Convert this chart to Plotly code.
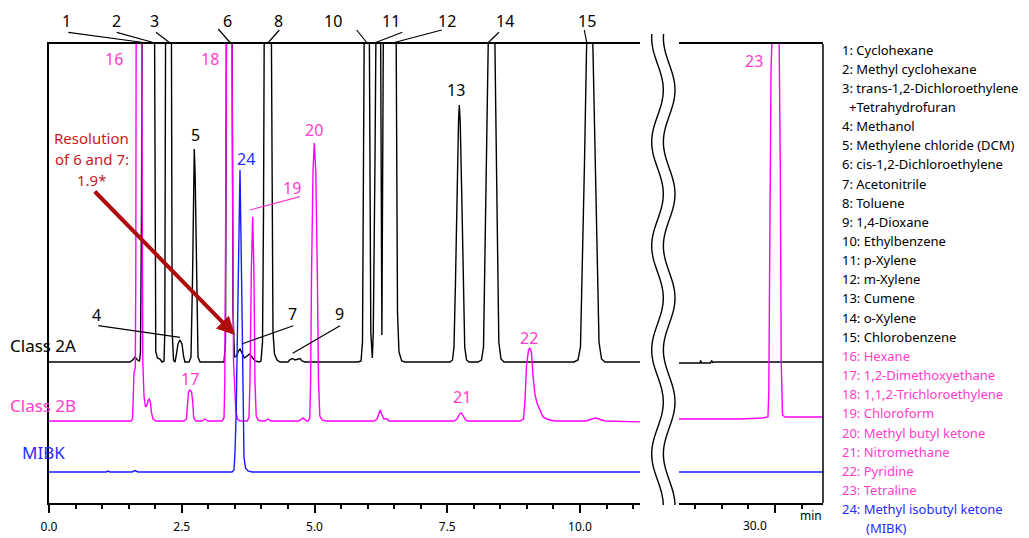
import numpy as np
import plotly.graph_objects as go

# ---------------- data (retention time in min, signal above each baseline) ----------------
class2a_t = [0, 1.525, 1.573, 1.620, 1.667, 1.704, 1.723, 1.742, 1.757, 1.780, 1.864, 1.930,
             1.983, 1.996, 2.011, 2.043, 2.090, 2.128, 2.166,
             2.181, 2.192, 2.213, 2.247, 2.288, 2.307, 2.320, 2.345, 2.373,
             2.401, 2.429, 2.467, 2.505, 2.533, 2.561,
             2.637, 2.674, 2.702, 2.723, 2.736, 2.753, 2.778, 2.806, 2.844,
             3.296, 3.324, 3.339, 3.362, 3.395, 3.431, 3.450, 3.465, 3.493,
             3.531, 3.569, 3.597, 3.635, 3.682, 3.729, 3.776, 3.823, 3.879, 3.955,
             3.992, 4.021, 4.040, 4.058, 4.087, 4.124, 4.162, 4.181, 4.200, 4.218, 4.247, 4.294, 4.350,
             4.501, 4.539, 4.586, 4.633, 4.680, 4.727, 4.765, 4.821,
             5.819, 5.876, 5.904, 5.923, 5.942, 5.985, 6.017, 6.038, 6.060, 6.089,
             6.107, 6.139, 6.158, 6.202, 6.243, 6.269, 6.299, 6.328, 6.412, 6.522, 6.544, 6.563,
             6.591, 6.642, 6.704,
             7.552, 7.599, 7.627, 7.655, 7.684, 7.712, 7.727, 7.744, 7.772, 7.800, 7.829, 7.863, 7.910,
             8.079, 8.145, 8.183, 8.211, 8.249, 8.281, 8.333, 8.390, 8.414, 8.443, 8.471, 8.512, 8.569,
             9.887, 9.962, 10.009, 10.047, 10.085, 10.122, 10.183, 10.245, 10.292, 10.330, 10.358,
             10.405, 10.471, 11.2]
class2a_y = [0, 0, 2, 5, 2, 1, 10, 150, 400, 700, 600, 800,
             400, 150, 10, 4, 3, 0, 1,
             30, 300, 700, 900, 700, 300, 30, 2, 0,
             8, 18, 22, 18, 6, 0,
             0, 5, 80, 190, 213, 185, 70, 5, 0,
             0, 20, 300, 700, 900, 700, 300, 50, 5,
             6, 11, 13, 9, 4, 6, 8, 5, 1, 0,
             1, 20, 150, 400, 700, 850, 700, 400, 150, 30, 8, 2, 0,
             0, 2.5, 3.5, 2, 2.5, 3.5, 1, 0,
             0, 1, 20, 200, 500, 800, 500, 200, 30, 4,
             30, 200, 450, 650, 360, 27, 360, 700, 900, 500, 200, 50,
             10, 1, 0,
             0, 2, 15, 80, 170, 240, 257, 240, 170, 80, 15, 2, 0,
             0, 2, 15, 100, 250, 350, 450, 350, 250, 100, 20, 3, 0,
             0, 2, 15, 100, 200, 310, 420, 310, 200, 100, 20,
             3, 0, 0]

class2a_late_t = [28.15, 28.588, 28.601, 28.616, 28.785, 28.808, 28.823, 28.870, 30.95]
class2a_late_y = [-1, -1, 1.5, -1, -1, 1.5, -0.5, 0, 0]

class2b_t = [0, 1.544, 1.573, 1.588, 1.601, 1.625, 1.635, 1.644, 1.691, 1.738, 1.751, 1.766,
             1.789, 1.817, 1.846, 1.868, 1.889, 1.911, 1.930, 1.959, 2.015,
             2.542, 2.589, 2.608, 2.627, 2.655, 2.684, 2.706, 2.725, 2.768,
             2.881, 2.938, 2.994,
             3.258, 3.296, 3.311, 3.337, 3.352, 3.394, 3.433, 3.452, 3.475, 3.518, 3.550, 3.597,
             3.729, 3.766, 3.785, 3.810, 3.836, 3.859, 3.879, 3.902, 3.936, 3.992,
             4.068, 4.124, 4.181, 4.708, 4.783, 4.849,
             4.878, 4.911, 4.927, 4.945, 4.972, 4.996, 5.024, 5.053, 5.075, 5.100, 5.141, 5.217,
             6.121, 6.177, 6.215, 6.239, 6.271, 6.309, 6.356, 6.403,
             7.627, 7.684, 7.731, 7.768, 7.802, 7.844, 7.891,
             8.870, 8.936, 8.964, 8.992, 9.030, 9.058, 9.087, 9.115, 9.153, 9.190, 9.247, 9.303,
             9.397, 9.529,
             10.113, 10.188, 10.282, 10.358, 10.471, 11.2]
class2b_y = [0, 0, 2, 40, 48, 53, 150, 500, 900, 500, 200, 60,
             25, 14, 16, 21, 22, 18, 8, 2, 0,
             0, 2, 20, 29, 31, 29, 20, 3, 0,
             0, 2, 0,
             0, 3, 40, 300, 600, 900, 600, 300, 60, 10, 2, 0,
             0, 3, 40, 150, 204, 150, 40, 5, 1, 0,
             0, 2, 0, 0, 3, 0,
             0, 3, 40, 150, 250, 278, 250, 150, 40, 5, 1, 0,
             0, 2, 9, 11, 6, 2, 2.5, 0,
             0, 2, 7, 8, 5, 1, 0,
             0, 2, 20, 55, 71, 73, 68, 45, 26, 18, 10, 4,
             1.5, 0,
             0, 1.5, 3, 2, 0, -1]

class2b_late_t = [28.15, 29.341, 29.755, 29.831, 29.868, 29.883, 29.896, 29.925, 29.953, 30.013,
                  30.075, 30.100, 30.117, 30.128, 30.141, 30.188, 30.95]
class2b_late_y = [2, 2, 3, 3.5, 4, 30, 150, 350, 400, 600,
                  400, 250, 60, 15, 6, 4, 4]

mibk_t = [0, 1.073, 1.111, 1.149, 1.563, 1.620, 1.676, 3.446, 3.484, 3.503, 3.525, 3.559,
          3.597, 3.625, 3.650, 3.672, 3.701, 3.748, 3.823, 11.2]
mibk_y = [0, 0, 1, 0, 0, 1.5, 0, 0, 2, 20, 60, 200,
          302, 200, 60, 15, 4, 1, 0, 0]
mibk_late_t = [28.15, 30.95]
mibk_late_y = [0, 0]

baseline_2a = 141
baseline_2b = 82
baseline_mibk = 31

major_ticks_left = [0, 2.5, 5.0, 7.5, 10.0]
minor_ticks_left = [0.5, 1, 1.5, 2, 3, 3.5, 4, 4.5, 5.5, 6, 6.5, 7, 8, 8.5, 9, 9.5, 10.5, 11]
major_ticks_right = [30.0]
minor_ticks_right = [28.5, 29.0, 29.5, 30.5]

legend_labels = [
    "1: Cyclohexane", "2: Methyl cyclohexane", "3: trans-1,2-Dichloroethylene",
    "+Tetrahydrofuran", "4: Methanol", "5: Methylene chloride (DCM)",
    "6: cis-1,2-Dichloroethylene", "7: Acetonitrile", "8: Toluene", "9: 1,4-Dioxane",
    "10: Ethylbenzene", "11: p-Xylene", "12: m-Xylene", "13: Cumene", "14: o-Xylene",
    "15: Chlorobenzene", "16: Hexane", "17: 1,2-Dimethoxyethane",
    "18: 1,1,2-Trichloroethylene", "19: Chloroform", "20: Methyl butyl ketone",
    "21: Nitromethane", "22: Pyridine", "23: Tetraline",
    "24: Methyl isobutyl ketone", "(MIBK)"]
legend_groups = ["2A"] * 16 + ["2B"] * 8 + ["MIBK"] * 2
legend_indent = [0, 0, 0, 7, 0, 0, 0, 0, 0, 0, 0, 0, 0, 0, 0, 0,
                 0, 0, 0, 0, 0, 0, 0, 0, 0, 24]

# ---------------- styling ----------------
FONT = "Noto Sans"
BLACK = "#000000"
MAG = "#ff00ff"
MAG_T = "#ff3ccc"
BLUE = "#1a1aff"
BLUE_T = "#1f2bff"
RED_T = "#c8191e"
RED_A = "#b00c0c"
group_color = {"2A": BLACK, "2B": MAG_T, "MIBK": BLUE_T}

W, H = 1029, 538
L, R, T, B = 49, 823, 44, 503


def fx(x):
    return (x - L) / (R - L)


def fy(y):
    return (B - y) / (B - T)


fig = go.Figure()


def add(t, y, base, color, axis):
    fig.add_trace(go.Scatter(x=t, y=[v + base for v in y], mode="lines",
                             line=dict(color=color, width=1.4), xaxis=axis, yaxis="y",
                             hoverinfo="skip"))


add(class2a_t, class2a_y, baseline_2a, BLACK, "x")
add(class2a_late_t, class2a_late_y, baseline_2a, BLACK, "x2")
add(class2b_t, class2b_y, baseline_2b, MAG, "x")
add(class2b_late_t, class2b_late_y, baseline_2b, MAG, "x2")
add(mibk_t, mibk_y, baseline_mibk, BLUE, "x")
add(mibk_late_t, mibk_late_y, baseline_mibk, BLUE, "x2")

axis_common = dict(showline=True, linecolor=BLACK, linewidth=1.5, mirror=True,
                   ticks="outside", ticklen=8, tickwidth=1.5, tickcolor=BLACK,
                   showgrid=False, zeroline=False, fixedrange=True, automargin=False,
                   ticklabelstandoff=4,
                   tickfont=dict(family=FONT, size=12, color=BLACK))

fig.update_layout(
    width=W, height=H,
    margin=dict(l=L, r=W - R, t=T, b=H - B, pad=0, autoexpand=False),
    paper_bgcolor="white", plot_bgcolor="white", showlegend=False,
    font=dict(family=FONT, color=BLACK),
    xaxis=dict(domain=[0, fx(640)], range=[0, 591 / 53.1], anchor="y",
               tickvals=major_ticks_left, ticktext=[f"{v:.1f}" for v in major_ticks_left],
               minor=dict(tickvals=minor_ticks_left, ticks="outside", ticklen=4,
                          tickwidth=1.5, tickcolor=BLACK),
               **axis_common),
    xaxis2=dict(domain=[fx(679), 1], range=[30 - 96 / 53.1, 30 + 48 / 53.1], anchor="y",
                tickvals=major_ticks_right, ticktext=[""],
                minor=dict(tickvals=minor_ticks_right, ticks="outside", ticklen=4,
                           tickwidth=1.5, tickcolor=BLACK),
                **axis_common),
    yaxis=dict(range=[0, B - T], anchor="x", showline=True, linecolor=BLACK, linewidth=1.5,
               showticklabels=False, ticks="", showgrid=False, zeroline=False, fixedrange=True,
               automargin=False),
)

shapes = []
# right frame edge
shapes.append(dict(type="line", xref="paper", yref="paper", x0=1, x1=1, y0=0, y1=1,
                   line=dict(color=BLACK, width=1.5)))
# axis break wavy lines
yy = np.linspace(34, 505, 200)
for off in (0, 11.7):
    xs = 657.5 + off + 5.8 * np.cos(2 * np.pi * (yy - 90) / 104)
    path = "M " + " L ".join(f"{fx(a):.5f},{fy(b):.5f}" for a, b in zip(xs, yy))
    shapes.append(dict(type="path", xref="paper", yref="paper", path=path,
                       line=dict(color=BLACK, width=1.4)))


def leader(x0, y0, x1, y1, color=BLACK, w=1.2):
    shapes.append(dict(type="line", xref="paper", yref="paper",
                       x0=fx(x0), y0=fy(y0), x1=fx(x1), y1=fy(y1),
                       line=dict(color=color, width=w)))


leader(68.3, 32.3, 143.3, 42.5)
leader(116.7, 32.3, 153.3, 42.5)
leader(156, 32.3, 169.3, 42.5)
leader(218.3, 29, 230, 42.5)
leader(279.3, 30, 268.3, 42.5)
leader(356.7, 30, 366.7, 42.5)
leader(402.3, 32.3, 375.7, 42.5)
leader(441.7, 30, 394.3, 42.5)
leader(499, 32.3, 488.3, 42.5)
leader(584.3, 30, 586.7, 42.5)
leader(98.3, 325.7, 180, 337.3)
leader(293.3, 325.7, 241.7, 344)
leader(340, 325.7, 292.7, 353.3)
leader(250, 210, 300, 196.7, color=MAG_T)
fig.update_layout(shapes=shapes)

ann = []


def label(text, x, y, color=BLACK, size=16, xanchor="center"):
    ann.append(dict(text=text, x=fx(x), y=fy(y), xref="paper", yref="paper",
                    showarrow=False, xanchor=xanchor, yanchor="middle",
                    font=dict(family=FONT, size=size, color=color)))


for txt, x in [("1", 66.7), ("2", 116), ("3", 154), ("6", 227.3), ("8", 278.3),
               ("10", 332.7), ("11", 391), ("12", 446.7), ("14", 505), ("15", 586.7)]:
    label(txt, x, 21.5)
label("16", 114.3, 59, MAG_T)
label("18", 210, 58.5, MAG_T)
label("5", 195, 135)
label("24", 245.7, 158.5, BLUE_T)
label("20", 314.3, 129.5, MAG_T)
label("19", 291.7, 188.5, MAG_T)
label("13", 456, 89.5)
label("23", 754.3, 61, MAG_T)
label("4", 96, 315)
label("7", 292.7, 313.5)
label("9", 339, 313.5)
label("17", 190, 378.5, MAG_T)
label("21", 462.3, 397, MAG_T)
label("22", 529.3, 337.5, MAG_T)

label("Class 2A", 8, 345, BLACK, 17, "left")
label("Class 2B", 8, 405, MAG_T, 17, "left")
label("MIBK", 20, 452, BLUE_T, 17, "left")

label("Resolution", 91.5, 137.5, RED_T, 15)
label("of 6 and 7:", 91.5, 158.5, RED_T, 15)
label("1.9*", 91.5, 179.5, RED_T, 15)

label("30.0", 755, 525.5, BLACK, 12)
label("min", 811, 515.5, BLACK, 12)

for i, (txt, g, ind) in enumerate(zip(legend_labels, legend_groups, legend_indent)):
    label(txt, 840 + ind, 49.5 + i * 19.15, group_color[g], 13, "left")

# red arrow
ann.append(dict(text="", x=3.503, y=B - 335, xref="x", yref="y",
                ax=(93.3 - L) / 53.1, ay=B - 190, axref="x", ayref="y",
                showarrow=True, arrowhead=2, arrowsize=0.9, arrowwidth=4,
                arrowcolor=RED_A))
fig.update_layout(annotations=ann)

fig.write_html("out.html", config={"displayModeBar": False},
               post_script="document.body.style.margin='0';")
